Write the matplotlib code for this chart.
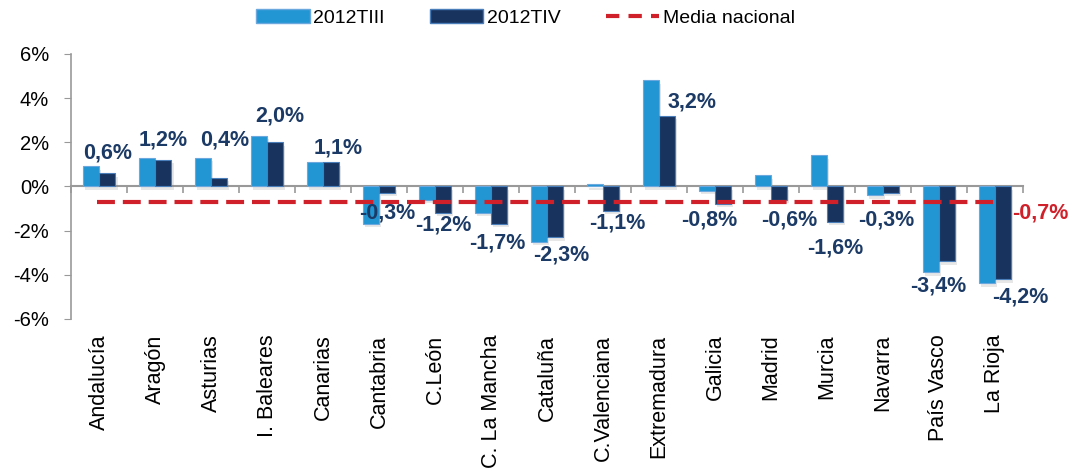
import matplotlib
matplotlib.use("Agg")
import matplotlib.pyplot as plt
import matplotlib.transforms as mtransforms
import matplotlib.patheffects as pe
from matplotlib.patches import Patch
from matplotlib.lines import Line2D
import numpy as np

categories = ["Andalucía", "Aragón", "Asturias", "I. Baleares", "Canarias", "Cantabria",
              "C.León", "C. La Mancha", "Cataluña", "C.Valenciana", "Extremadura",
              "Galicia", "Madrid", "Murcia", "Navarra", "País Vasco", "La Rioja"]
t3 = [0.9, 1.3, 1.3, 2.3, 1.1, -1.7, -0.6, -1.2, -2.5, 0.1, 4.8,
      -0.2, 0.5, 1.4, -0.4, -3.9, -4.4]
t4 = [0.6, 1.2, 0.4, 2.0, 1.1, -0.3, -1.2, -1.7, -2.3, -1.1, 3.2,
      -0.8, -0.6, -1.6, -0.3, -3.4, -4.2]
media = -0.7
yticks = [-6, -4, -2, 0, 2, 4, 6]
series_names = ["2012TIII", "2012TIV", "Media nacional"]

# label placement offsets (pixels) relative to the end of each 2012TIV bar
label_dx = [0, 0, 5, 5, 7, 0, 0, -2, 6, 6, 25, -14, 10, 0, -5, -9, 17]
label_dy = [20, 20, 38, 26, 14, 20, 12, 19, 18, 12, 14, 16, 20, 26, 27, 25, 18]

c3 = "#2196D3"
c4 = "#18345E"
lab = "#1C3A66"
red = "#D0202A"

plt.rcParams['font.family'] = ['Liberation Sans', 'DejaVu Sans']
fig = plt.figure(figsize=(10.79, 4.73), dpi=100)
ax = fig.add_axes([0.066, 0.326, 0.882, 0.560])

x = np.arange(len(categories))
w = 0.29
shadow = [pe.SimplePatchShadow(offset=(1.5, -2.5), shadow_rgbFace="#888888", alpha=0.2), pe.Normal()]
b3 = ax.bar(x - w/2, t3, w, color=c3, edgecolor="#6AA8DE", linewidth=0.8, zorder=3)
b4 = ax.bar(x + w/2, t4, w, color=c4, edgecolor="#4A7EBB", linewidth=0.8, zorder=3)
for b in list(b3) + list(b4):
    b.set_path_effects(shadow)

line_end = len(categories) - 1 - 0.04
ax.plot([-0.04, line_end], [media, media], color=red,
        lw=3, dashes=(4.3, 1.9), zorder=4)
ax.annotate(f"{media:.1f}".replace(".", ",") + "%",
            xy=(line_end, media), xytext=(14, -8), textcoords="offset points",
            ha="left", va="center", color=red, fontsize=15.5, fontweight="bold")

px = 0.72
for i, v in enumerate(t4):
    txt = f"{v:.1f}".replace(".", ",") + "%"
    dx = label_dx[i] * px
    dy = label_dy[i] * px
    ax.annotate(txt, xy=(i + w/2, v), xytext=(dx, dy if v >= 0 else -dy),
                textcoords="offset points", ha="center", va="center",
                color=lab, fontsize=15.5, fontweight="bold", zorder=5)

ax.set_xlim(-0.5, len(categories) - 0.5)
ax.set_ylim(-6, 6)
ax.set_yticks(yticks)
ax.set_yticklabels([f"{t}%" for t in yticks], fontsize=14.5)
ax.tick_params(axis="y", direction="out", length=5, color="#999999", pad=11)

ax.spines["top"].set_visible(False)
ax.spines["right"].set_visible(False)
ax.spines["left"].set_color("#999999")
ax.spines["left"].set_linewidth(1.2)
ax.spines["bottom"].set_position(("data", 0))
ax.spines["bottom"].set_color("#999999")
ax.spines["bottom"].set_linewidth(1.5)
ax.set_xticks(np.arange(len(categories) + 1) - 0.5)
ax.set_xticklabels([])
ax.tick_params(axis="x", direction="out", length=5, color="#999999", width=1.2)

trans = mtransforms.blended_transform_factory(ax.transData, ax.transAxes)
for i, c in enumerate(categories):
    ax.text(i, -0.06, c, rotation=90, ha="center", va="top", fontsize=15.5, transform=trans)

handles = [Patch(facecolor=c3, edgecolor="#6AA8DE"),
           Patch(facecolor=c4, edgecolor="#4A7EBB"),
           Line2D([0], [0], color=red, lw=3, dashes=(3.2, 2.2))]
fig.legend(handles, series_names, loc="center", bbox_to_anchor=(0.487, 0.962), ncol=3,
           frameon=False, fontsize=14, handlelength=2.75, handleheight=0.75,
           columnspacing=2.3, handletextpad=0.2)

fig.savefig("out.png", dpi=100)
